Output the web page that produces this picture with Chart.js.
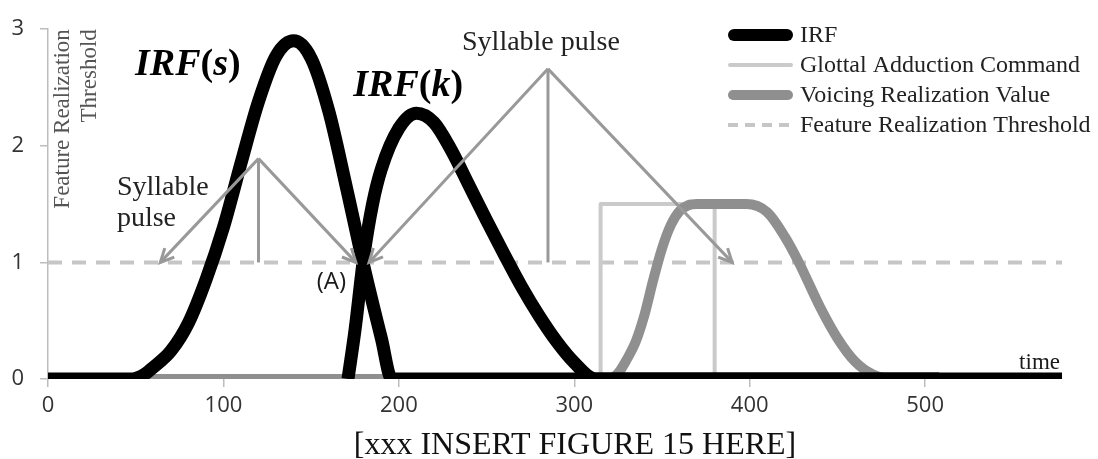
<!DOCTYPE html>
<html>
<head>
<meta charset="utf-8">
<script src="https://cdn.jsdelivr.net/npm/chart.js@4.4.1/dist/chart.umd.min.js"></script>
<style>
  html, body { margin: 0; padding: 0; background: #fff; }
  #wrap { width: 1098px; height: 459px; position: relative; }
</style>
</head>
<body>
<div id="wrap"><canvas id="fig"></canvas></div>
<script>
const seriesNames = ['IRF', 'Glottal Adduction Command', 'Voicing Realization Value', 'Feature Realization Threshold'];
const xTicks = [0, 100, 200, 300, 400, 500];
const yTicks = [0, 1, 2, 3];
const xMax = 578;

// IRF(s) and IRF(k)
const irfSX = [0, 48, 55, 60, 70, 80, 90, 100, 110, 120, 130, 140, 150, 160, 170, 180, 190, 196, 508];
const irfSY = [0, 0, 0.04, 0.1, 0.24, 0.48, 0.85, 1.3, 1.85, 2.38, 2.77, 2.9, 2.75, 2.3, 1.65, 0.97, 0.35, 0, 0];
const irfKX = [171, 175, 180, 185, 190, 200, 210, 220, 230, 240, 250, 260, 270, 280, 290, 300, 312, 578];
const irfKY = [0, 0.42, 1.05, 1.5, 1.8, 2.15, 2.28, 2.2, 1.96, 1.66, 1.36, 1.07, 0.79, 0.54, 0.32, 0.14, 0, 0];

// glottal adduction command (step)
const glottalX = [0, 315, 315, 380, 380, 508];
const glottalY = [0, 0, 1.5, 1.5, 0, 0];

// voicing realization value
const voicingX = [0, 320, 325, 330, 335, 340, 345, 350, 355, 360, 365, 370, 398, 410, 420, 428, 440, 450, 460, 470, 480, 508];
const voicingY = [0, 0, 0.05, 0.17, 0.32, 0.55, 0.85, 1.12, 1.32, 1.44, 1.49, 1.5, 1.5, 1.43, 1.22, 1.0, 0.62, 0.35, 0.15, 0.04, 0, 0];

const thresholdX = [0, 578];
const thresholdY = [1, 1];

// syllable pulses: apex and arrow targets on the threshold
const pulseApexX = [120, 285];
const pulseApexY = [1.89, 2.66];
const pulseLeftX = [64, 183];
const pulseRightX = [175.5, 390];
const pulseBaseY = 1;

const pts = (xs, ys) => xs.map((x, i) => ({ x: x, y: ys[i] }));

const SERIF = '"Liberation Serif", "Times New Roman", serif';
const SANS = '"Open Sans", "Noto Sans", sans-serif';

const arrowColor = '#999999';

function arrowLine(ctx, x1, y1, x2, y2, head) {
  ctx.beginPath();
  ctx.moveTo(x1, y1);
  ctx.lineTo(x2, y2);
  ctx.stroke();
  if (!head) return;
  const a = Math.atan2(y2 - y1, x2 - x1);
  const len = 15, spread = 0.45;
  ctx.beginPath();
  ctx.moveTo(x2 - len * Math.cos(a - spread), y2 - len * Math.sin(a - spread));
  ctx.lineTo(x2, y2);
  ctx.lineTo(x2 - len * Math.cos(a + spread), y2 - len * Math.sin(a + spread));
  ctx.stroke();
}

// draw text made of differently styled pieces, left to right
function runs(ctx, parts, x, y) {
  parts.forEach(([txt, font]) => {
    ctx.font = font;
    ctx.fillText(txt, x, y);
    x += ctx.measureText(txt).width;
  });
}

const annotations = {
  id: 'annotations',
  afterDatasetsDraw(chart) {
    const ctx = chart.ctx;
    const xs = chart.scales.x, ys = chart.scales.y;
    const px = v => xs.getPixelForValue(v);
    const py = v => ys.getPixelForValue(v);

    // pulse arrows
    ctx.save();
    ctx.strokeStyle = arrowColor;
    ctx.lineWidth = 3;
    ctx.lineCap = 'butt';
    ctx.lineJoin = 'miter';
    for (let i = 0; i < pulseApexX.length; i++) {
      const ax = px(pulseApexX[i]), ay = py(pulseApexY[i]);
      arrowLine(ctx, ax, ay, ax, py(pulseBaseY), false);
      arrowLine(ctx, ax, ay, px(pulseLeftX[i]), py(pulseBaseY), true);
      arrowLine(ctx, ax, ay, px(pulseRightX[i]), py(pulseBaseY), true);
    }
    ctx.restore();

    // labels
    ctx.save();
    ctx.fillStyle = '#000';
    ctx.textBaseline = 'alphabetic';
    ctx.textAlign = 'left';
    const bi = 'italic bold 38px ' + SERIF, b = 'bold 38px ' + SERIF;
    runs(ctx, [['IRF', bi], ['(', b], ['s', bi], [')', b]], px(49.6), py(2.61));
    runs(ctx, [['IRF', bi], ['(', b], ['k', bi], [')', b]], px(174), py(2.43));

    ctx.fillStyle = '#222';
    ctx.font = '28px ' + SERIF;
    ctx.textAlign = 'center';
    ctx.fillText('Syllable pulse', px(281), py(2.82));
    ctx.textAlign = 'left';
    ctx.fillText('Syllable', px(39.3), py(1.58));
    ctx.fillText('pulse', px(39.3), py(1.31));

    ctx.fillStyle = '#1a1a1a';
    ctx.font = '24px ' + SANS;
    ctx.textAlign = 'center';
    ctx.textBaseline = 'middle';
    ctx.fillText('(A)', px(161.5), py(0.83));

    ctx.font = '23px ' + SERIF;
    ctx.textAlign = 'right';
    ctx.textBaseline = 'alphabetic';
    ctx.fillText('time', chart.chartArea.right - 2, py(0.09));

    // y-axis title inside the plot
    ctx.fillStyle = '#555';
    ctx.font = '23px ' + SERIF;
    ctx.textAlign = 'right';
    ctx.textBaseline = 'middle';
    [['Feature Realization', 63], ['Threshold', 90]].forEach(([t, x]) => {
      ctx.save();
      ctx.translate(x, chart.chartArea.top);
      ctx.rotate(-Math.PI / 2);
      ctx.fillText(t, 0, 0);
      ctx.restore();
    });

    // caption
    ctx.fillStyle = '#111';
    ctx.font = '32px ' + SERIF;
    ctx.textAlign = 'center';
    ctx.textBaseline = 'alphabetic';
    ctx.fillText('[xxx INSERT FIGURE 15 HERE]', 575, 454);

    // legend
    const lx1 = 728, lx2 = 793, ty = [35, 65, 95, 125];
    const styles = [
      { color: '#000', width: 12, dash: [], cap: 'round' },
      { color: '#cacaca', width: 4, dash: [], cap: 'round' },
      { color: '#8f8f8f', width: 10, dash: [], cap: 'round' },
      { color: '#c6c6c6', width: 4, dash: [10, 7], cap: 'butt' }
    ];
    seriesNames.forEach((name, i) => {
      const s = styles[i];
      ctx.save();
      ctx.strokeStyle = s.color;
      ctx.lineWidth = s.width;
      ctx.lineCap = s.cap;
      ctx.setLineDash(s.dash);
      ctx.beginPath();
      ctx.moveTo(lx1 + (s.cap === 'round' ? s.width / 2 : 0), ty[i]);
      ctx.lineTo(lx2 - (s.cap === 'round' ? s.width / 2 : 0), ty[i]);
      ctx.stroke();
      ctx.restore();
      ctx.fillStyle = '#222';
      ctx.font = '24px ' + SERIF;
      ctx.textAlign = 'left';
      ctx.textBaseline = 'middle';
      ctx.fillText(name, 800, ty[i] + 1);
    });
    ctx.restore();
  }
};

const lineDefaults = { pointRadius: 0, fill: false, borderCapStyle: 'butt', borderJoinStyle: 'round' };

new Chart(document.getElementById('fig').getContext('2d'), {
  type: 'line',
  data: {
    datasets: [
      Object.assign({ label: 'IRF(s)', data: pts(irfSX, irfSY), borderColor: '#000', borderWidth: 13, cubicInterpolationMode: 'monotone', order: 1 }, lineDefaults),
      Object.assign({ label: 'IRF(k)', data: pts(irfKX, irfKY), borderColor: '#000', borderWidth: 13, cubicInterpolationMode: 'monotone', order: 1 }, lineDefaults),
      Object.assign({ label: seriesNames[2], data: pts(voicingX, voicingY), borderColor: '#8f8f8f', borderWidth: 10, cubicInterpolationMode: 'monotone', order: 3 }, lineDefaults),
      Object.assign({ label: seriesNames[1], data: pts(glottalX, glottalY), borderColor: '#cacaca', borderWidth: 4, tension: 0, order: 4 }, lineDefaults),
      Object.assign({ label: seriesNames[3], data: pts(thresholdX, thresholdY), borderColor: '#c6c6c6', borderWidth: 4, borderDash: [14, 10], tension: 0, order: 5 }, lineDefaults)
    ]
  },
  options: {
    responsive: true,
    maintainAspectRatio: false,
    animation: false,
    layout: { padding: { top: 16, right: 36, left: 0, bottom: 0 } },
    scales: {
      x: {
        type: 'linear',
        min: 0,
        max: xMax,
        afterBuildTicks: s => { s.ticks = xTicks.map(v => ({ value: v })); },
        afterFit: s => { s.height = 80; },
        ticks: { font: { family: SANS, size: 22 }, color: '#333', padding: 6, maxRotation: 0 },
        grid: { drawOnChartArea: false, tickLength: 8, color: '#bdbdbd', lineWidth: 1.5 },
        border: { display: false }
      },
      y: {
        min: 0,
        max: 3,
        afterBuildTicks: s => { s.ticks = yTicks.map(v => ({ value: v })); },
        afterFit: s => { s.width = 48; },
        ticks: { font: { family: SANS, size: 22 }, color: '#333', padding: 16 },
        grid: { drawOnChartArea: false, tickLength: 8, color: '#bdbdbd', lineWidth: 1.5 },
        border: { color: '#bdbdbd', width: 1.5 }
      }
    },
    plugins: {
      legend: { display: false },
      tooltip: { enabled: false }
    }
  },
  plugins: [annotations]
});
</script>
</body>
</html>
